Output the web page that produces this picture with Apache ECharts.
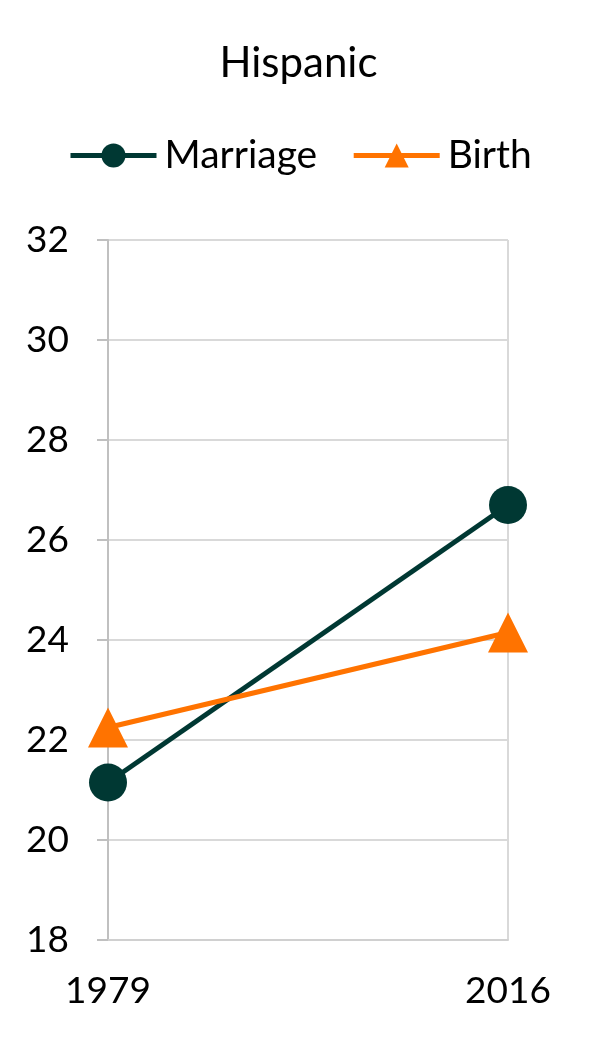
<!DOCTYPE html>
<html><head><meta charset="utf-8">
<script src="https://cdn.jsdelivr.net/npm/echarts@6/dist/echarts.min.js"></script>
<style>html,body{margin:0;padding:0;background:#fff}#c{width:597px;height:1047px}</style>
</head><body><div id="c"></div>
<script>
var title = 'Hispanic';
var categories = ['1979', '2016'];
var marriage = [21.15, 26.7];
var birth = [22.25, 24.15];
var yTicks = { min: 18, max: 32, interval: 2 };

var FONT = 'Lato';
var chart = echarts.init(document.getElementById('c'));
chart.setOption({
  animation: false,
  title: { text: title, left: 'center', top: 37, textStyle: { fontFamily: FONT, fontSize: 42, fontWeight: 'normal', color: '#000' } },
  legend: {
    top: 131, left: 63, itemWidth: 86, itemHeight: 30, itemGap: 34,
    lineStyle: { width: 5 },
    textStyle: { fontFamily: FONT, fontSize: 39, color: '#000', padding: [0, 0, 0, 3] },
    data: ['Marriage', 'Birth']
  },
  grid: { left: 108, right: 89, top: 240, bottom: 107 },
  xAxis: {
    type: 'category', data: categories, boundaryGap: false,
    axisLine: { show: true, lineStyle: { color: '#d0d0d0', width: 2 } },
    axisTick: { show: false },
    splitLine: { show: true, lineStyle: { color: '#d9d9d9', width: 2 } },
    axisLabel: { fontFamily: FONT, fontSize: 37, color: '#000', margin: 33 }
  },
  yAxis: {
    type: 'value', min: yTicks.min, max: yTicks.max, interval: yTicks.interval,
    axisLine: { show: true, lineStyle: { color: '#c0c0c0', width: 2 } },
    axisTick: { show: true, length: 11, lineStyle: { color: '#c0c0c0', width: 2 } },
    splitLine: { lineStyle: { color: '#d9d9d9', width: 2 } },
    axisLabel: { fontFamily: FONT, fontSize: 37, color: '#000', margin: 39 }
  },
  series: [
    { name: 'Marriage', type: 'line', data: marriage, symbol: 'circle', symbolSize: 38,
      lineStyle: { color: '#003833', width: 5 }, itemStyle: { color: '#003833' } },
    { name: 'Birth', type: 'line', data: birth, symbol: 'triangle', symbolSize: 40,
      lineStyle: { color: '#ff7300', width: 5 }, itemStyle: { color: '#ff7300' } }
  ]
});
</script></body></html>
